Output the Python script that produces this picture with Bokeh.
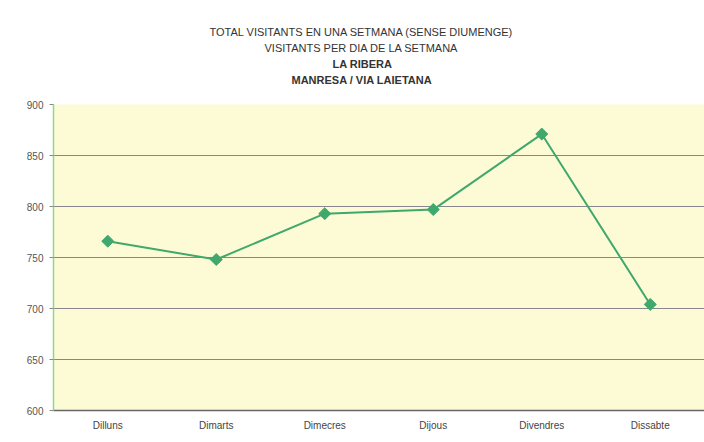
import math
from bokeh.plotting import figure
from bokeh.models import ColumnDataSource, FactorRange, Range1d, Title
from bokeh.embed import file_html
from bokeh.resources import INLINE

days = ["Dilluns", "Dimarts", "Dimecres", "Dijous", "Divendres", "Dissabte"]
visitants = [766, 748, 793, 797, 871, 704]
y_ticks = [600, 650, 700, 750, 800, 850, 900]
titles = [
    "TOTAL VISITANTS EN UNA SETMANA (SENSE DIUMENGE)",
    "VISITANTS PER DIA DE LA SETMANA",
    "LA RIBERA",
    "MANRESA / VIA LAIETANA",
]

src = ColumnDataSource(dict(day=days, v=visitants))

p = figure(width=704, height=442, output_backend="svg", toolbar_location=None,
           x_range=FactorRange(*days), y_range=Range1d(600, 900),
           min_border_left=53, min_border_right=0, min_border_top=104,
           min_border_bottom=32)

p.background_fill_color = "#fdfbd6"
p.border_fill_color = "#ffffff"
p.outline_line_color = None

p.xgrid.grid_line_color = None
p.ygrid.grid_line_color = "#8a8690"
p.ygrid.grid_line_width = 1.2

p.yaxis.ticker = y_ticks
p.yaxis.axis_line_color = "#8fd68f"
p.yaxis.axis_line_width = 1.5
p.yaxis.major_tick_line_color = "#888888"
p.yaxis.major_tick_out = 4
p.yaxis.major_tick_in = 0
p.yaxis.minor_tick_line_color = None
p.yaxis.major_label_text_font = "Liberation Sans"
p.yaxis.major_label_text_font_size = "10px"
p.yaxis.major_label_text_color = "#555555"
p.yaxis.major_label_standoff = 6

p.xaxis.axis_line_color = "#666666"
p.xaxis.axis_line_width = 1.5
p.xaxis.major_tick_line_color = None
p.xaxis.major_label_text_font = "Liberation Sans"
p.xaxis.major_label_text_font_size = "10px"
p.xaxis.major_label_text_color = "#444444"
p.xaxis.major_label_standoff = 3

p.line("day", "v", source=src, line_color="#3fa86c", line_width=2)
p.scatter("day", "v", source=src, marker="square", size=8.5, angle=math.pi / 4,
          fill_color="#3fa86c", line_color="#3fa86c")

# spacer between the titles and the plot area
p.add_layout(Title(text=" ", text_font_size="1px", standoff=15), "above")

offsets = [156, 211, 279, 238]
bold = [False, False, True, True]
# add bottom-most line first so it sits nearest the plot
for i in [3, 2, 1, 0]:
    p.add_layout(Title(text=titles[i], align="left", offset=offsets[i],
                       text_font="Liberation Sans", text_font_size="11px",
                       text_font_style="bold" if bold[i] else "normal",
                       text_color="#333333", standoff=2),
                 "above")

open("out.html", "w").write(file_html(p, INLINE))
